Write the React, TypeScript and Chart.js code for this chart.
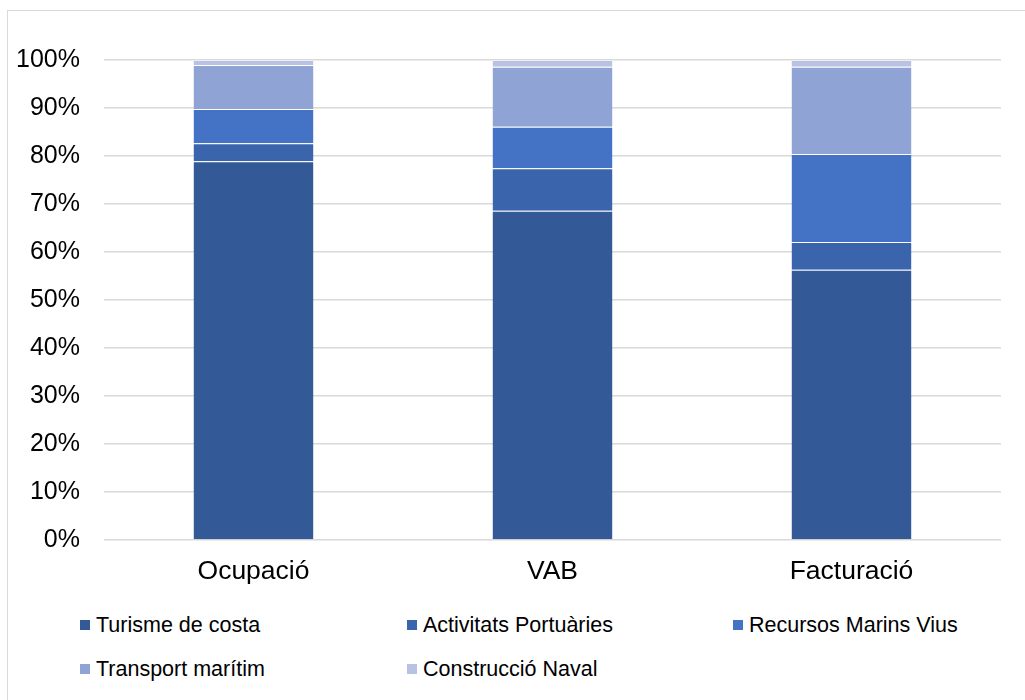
import React, { useEffect, useRef } from "react";
import { Chart, registerables } from "chart.js";

Chart.register(...registerables);

const categories = ["Ocupació", "VAB", "Facturació"];
const seriesNames = [
  "Turisme de costa",
  "Activitats Portuàries",
  "Recursos Marins Vius",
  "Transport marítim",
  "Construcció Naval",
];
const turismeDeCosta = [78.9, 68.6, 56.3];
const activitatsPortuaries = [3.75, 8.83, 5.77];
const recursosMarinsVius = [7.15, 8.67, 18.33];
const transportMaritim = [9.17, 12.5, 18.2];
const construccioNaval = [1.03, 1.4, 1.4];
const seriesColors = ["#335A96", "#3A64AC", "#4472C4", "#8FA3D4", "#B8C2E2"];
const yTicks = [0, 10, 20, 30, 40, 50, 60, 70, 80, 90, 100];

const seriesValues = [
  turismeDeCosta,
  activitatsPortuaries,
  recursosMarinsVius,
  transportMaritim,
  construccioNaval,
];

const FONT = "'Liberation Sans', Arial, sans-serif";

export default function App() {
  const canvasRef = useRef<HTMLCanvasElement | null>(null);

  useEffect(() => {
    document.body.style.margin = "0";
    document.body.style.overflow = "hidden";
    const ctx = canvasRef.current!;
    const chart = new Chart(ctx, {
      type: "bar",
      data: {
        labels: categories,
        datasets: seriesNames.map((name, i) => ({
          label: name,
          data: seriesValues[i],
          backgroundColor: seriesColors[i],
          borderColor: "rgba(255,255,255,0.14)",
          borderWidth: { top: 1, left: 0, right: 0, bottom: 0 },
          borderSkipped: false,
          barPercentage: 0.401,
          categoryPercentage: 1,
        })),
      },
      options: {
        animation: false,
        responsive: false,
        maintainAspectRatio: false,
        layout: { padding: { left: 0, top: 60, right: 24, bottom: 0 } },
        plugins: {
          legend: { display: false },
          tooltip: { enabled: false },
        },
        scales: {
          x: {
            stacked: true,
            grid: { display: false, drawTicks: false },
            border: { display: false },
            ticks: {
              color: "#000",
              font: { family: FONT, size: 26.5 },
              padding: 16,
            },
            afterFit: (s: any) => {
              s.height = 60;
            },
          },
          y: {
            stacked: true,
            min: 0,
            max: 100,
            afterBuildTicks: (s: any) => {
              s.ticks = yTicks.map((v) => ({ value: v }));
            },
            grid: { color: "#d9d9d9", lineWidth: 1.5, drawTicks: false },
            border: { display: false },
            ticks: {
              color: "#000",
              font: { family: FONT, size: 25 },
              padding: 24,
              callback: (v: any) => v + "%",
            },
            afterFit: (s: any) => {
              s.width = 104;
            },
          },
        },
      },
    });
    return () => chart.destroy();
  }, []);

  const legendCols = [80, 407, 733];
  const legendRows = [625, 669];

  return (
    <div style={{ position: "relative", width: 1025, height: 700, overflow: "hidden", background: "#fff" }}>
      <div
        style={{
          position: "absolute",
          left: 7,
          top: 10,
          width: 1030,
          height: 700,
          borderTop: "1.5px solid #d9d9d9",
          borderLeft: "1.5px solid #d9d9d9",
          boxSizing: "border-box",
        }}
      />
      <canvas
        ref={canvasRef}
        width={1025}
        height={600}
        style={{ position: "absolute", left: 0, top: 0, width: 1025, height: 600 }}
      />
      {seriesNames.map((name, i) => {
        const col = i % 3;
        const row = Math.floor(i / 3);
        return (
          <div
            key={name}
            style={{
              position: "absolute",
              left: legendCols[col],
              top: legendRows[row] - 14,
              height: 28,
              display: "flex",
              alignItems: "center",
              fontFamily: FONT,
              fontSize: 21.5,
              color: "#000",
              whiteSpace: "nowrap",
            }}
          >
            <span
              style={{
                display: "inline-block",
                width: 10,
                height: 10,
                background: seriesColors[i],
                marginRight: 6,
              }}
            />
            <span>{name}</span>
          </div>
        );
      })}
    </div>
  );
}
